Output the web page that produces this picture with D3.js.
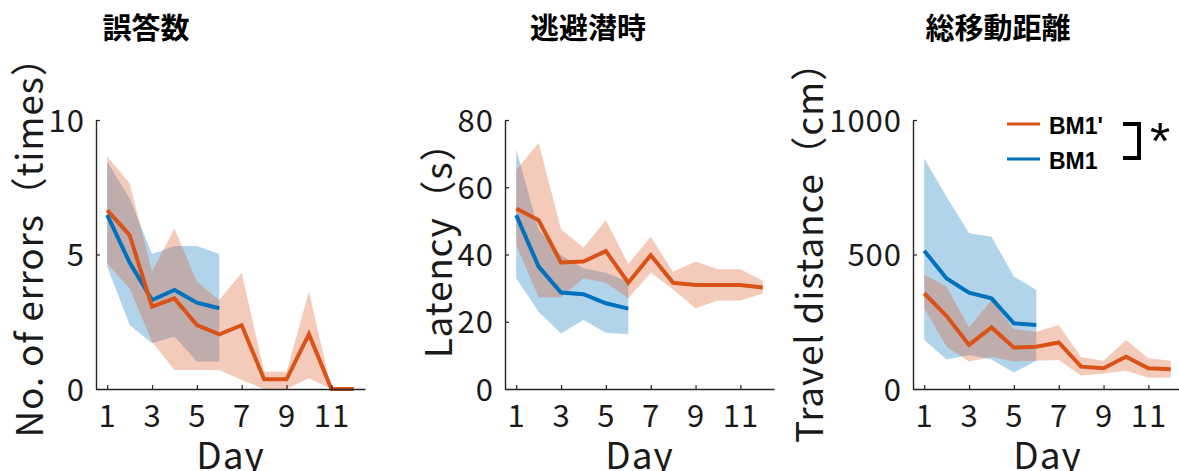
<!DOCTYPE html>
<html>
<head>
<meta charset="utf-8">
<script src="https://cdn.jsdelivr.net/npm/d3@7"></script>
<style>
  body { margin: 0; background: #fff; }
  svg { display: block; }
</style>
</head>
<body>
<svg id="chart" width="1179" height="471"></svg>
<script>
// ─── DATA ───
const DAYS_ALL = [1, 2, 3, 4, 5, 6, 7, 8, 9, 10, 11, 12];
const DAYS_BM1 = [1, 2, 3, 4, 5, 6];
const X_TICKS = [1, 3, 5, 7, 9, 11];

// 誤答数 (errors)
const errPrimeMean = [6.65, 5.72, 3.06, 3.37, 2.38, 2.03, 2.37, 0.36, 0.36, 2.04, 0, 0];
const errPrimeLo   = [4.67, 3.74, 1.76, 0.71, 0.71, 0.71, 0.33, 0, 0, 0.40, 0, 0];
const errPrimeHi   = [8.64, 7.65, 4.36, 5.97, 3.99, 3.31, 4.32, 0.64, 0.64, 3.62, 0, 0];
const errMean = [6.47, 4.70, 3.31, 3.68, 3.21, 3.00];
const errLo   = [4.55, 2.38, 1.70, 1.95, 1.02, 1.02];
const errHi   = [8.45, 7.09, 5.02, 5.32, 5.32, 5.02];
const errTicks = [0, 5, 10];

// 逃避潜時 (latency)
const latPrimeMean = [53.7, 50.2, 37.6, 37.9, 41.0, 31.6, 39.8, 31.6, 30.9, 30.9, 30.9, 30.2];
const latPrimeLo   = [42.8, 27.3, 27.3, 32.9, 31.6, 27.0, 34.6, 29.6, 24.0, 26.3, 26.3, 28.4];
const latPrimeHi   = [65.1, 73.2, 47.5, 42.1, 50.2, 37.2, 45.3, 34.9, 37.9, 35.6, 35.6, 32.2];
const latMean = [51.7, 36.4, 28.7, 28.2, 25.5, 23.9];
const latLo   = [32.9, 23.0, 16.5, 20.5, 16.7, 16.3];
const latHi   = [71.3, 47.3, 39.8, 35.9, 34.6, 31.9];
const latTicks = [0, 20, 40, 60, 80];

// 総移動距離 (travel distance)
const distPrimeMean = [356, 271, 164, 229, 154, 157, 173, 83, 77, 120, 77, 73];
const distPrimeLo   = [300, 157, 102, 120, 102, 105, 108, 50, 58, 68, 42, 43];
const distPrimeHi   = [426, 380, 229, 331, 222, 213, 238, 118, 105, 182, 114, 105];
const distMean = [514, 411, 358, 337, 244, 238];
const distLo   = [182, 110, 126, 110, 61, 105];
const distHi   = [857, 715, 579, 566, 418, 368];
const distTicks = [0, 500, 1000];

const GROUPS = ["BM1'", 'BM1'];

// ─── STYLE ───
const COLORS = { prime: '#D95319', base: '#0072BD' };
const AXIS_COLOR = '#262626';
const FONT = '"Noto Sans CJK JP", "Noto Sans", sans-serif';

const PLOT_TOP = 120, PLOT_BOTTOM = 389, PLOT_W = 269;

const panels = [
  { left: 96,  title: '誤答数', titleX: 146, label: 'No. of errors（times）', labelX: 43, labelY: 238,
    max: 10, ticks: errTicks,
    prime: { mean: errPrimeMean, lo: errPrimeLo, hi: errPrimeHi },
    base:  { mean: errMean, lo: errLo, hi: errHi } },
  { left: 505, title: '逃避潜時', titleX: 588, label: 'Latency（s）', labelX: 452, labelY: 241,
    max: 80, ticks: latTicks,
    prime: { mean: latPrimeMean, lo: latPrimeLo, hi: latPrimeHi },
    base:  { mean: latMean, lo: latLo, hi: latHi } },
  { left: 913, title: '総移動距離', titleX: 998, label: 'Travel distance（cm）', labelX: 823, labelY: 243,
    max: 1000, ticks: distTicks,
    prime: { mean: distPrimeMean, lo: distPrimeLo, hi: distPrimeHi },
    base:  { mean: distMean, lo: distLo, hi: distHi } }
];

const svg = d3.select('#chart');

const drawPanel = (p) => {
  const x = d3.scaleLinear().domain([0.5, 12.5]).range([p.left, p.left + PLOT_W]);
  const y = d3.scaleLinear().domain([0, p.max]).range([PLOT_BOTTOM, PLOT_TOP]);
  const g = svg.append('g');

  // title
  g.append('text')
    .attr('x', p.titleX).attr('y', 39)
    .attr('text-anchor', 'middle')
    .attr('font-family', FONT).attr('font-weight', 'bold').attr('font-size', 29)
    .attr('fill', '#000')
    .text(p.title);

  // bands + lines
  const area = d3.area().x(d => x(d.day)).y0(d => y(d.lo)).y1(d => y(d.hi));
  const line = d3.line().x(d => x(d.day)).y(d => y(d.v));
  const series = [
    { key: 'base',  days: DAYS_BM1 },
    { key: 'prime', days: DAYS_ALL }
  ];
  series.forEach(s => {
    const d = p[s.key];
    const pts = s.days.map((day, i) => ({ day, lo: d.lo[i], hi: d.hi[i] }));
    g.append('path').attr('d', area(pts))
      .attr('fill', COLORS[s.key]).attr('fill-opacity', 0.3);
  });
  series.forEach(s => {
    const d = p[s.key];
    const pts = s.days.map((day, i) => ({ day, v: d.mean[i] }));
    g.append('path').attr('d', line(pts))
      .attr('fill', 'none').attr('stroke', COLORS[s.key])
      .attr('stroke-width', 4).attr('stroke-linejoin', 'miter');
  });

  // axes (MATLAB style: inward ticks, no box)
  const xAxis = g.append('g').attr('transform', `translate(0,${PLOT_BOTTOM})`)
    .call(d3.axisBottom(x).tickValues(X_TICKS).tickSizeInner(-4).tickSizeOuter(0).tickPadding(0));
  const yAxis = g.append('g').attr('transform', `translate(${p.left},0)`)
    .call(d3.axisLeft(y).tickValues(p.ticks).tickFormat(d3.format('d'))
      .tickSizeInner(-4).tickSizeOuter(0).tickPadding(0));

  [xAxis, yAxis].forEach(a => {
    a.select('.domain').attr('stroke', AXIS_COLOR).attr('stroke-width', 1.4);
    a.selectAll('.tick line').attr('stroke', AXIS_COLOR).attr('stroke-width', 1.2);
    a.selectAll('.tick text')
      .attr('font-family', FONT).attr('font-size', 31).attr('fill', '#1a1a1a')
      .attr('letter-spacing', 1);
  });
  xAxis.selectAll('.tick text').attr('y', 38).attr('dy', 0);
  yAxis.selectAll('.tick text').attr('x', -11).attr('dy', '0.36em');

  // axis labels
  g.append('text')
    .attr('x', p.left + PLOT_W / 2).attr('y', 469)
    .attr('text-anchor', 'middle')
    .attr('font-family', FONT).attr('font-size', 37).attr('fill', '#1a1a1a')
    .attr('letter-spacing', 1)
    .text('Day');
  g.append('text')
    .attr('transform', `translate(${p.labelX},${p.labelY}) rotate(-90)`)
    .attr('text-anchor', 'middle')
    .attr('font-family', FONT).attr('font-size', 37).attr('fill', '#1a1a1a')
    .attr('letter-spacing', 0.8)
    .text(p.label);
};

panels.forEach(drawPanel);

// ─── LEGEND (third panel) ───
const legend = svg.append('g');
const legendRows = [
  { name: GROUPS[0], color: COLORS.prime, y: 124 },
  { name: GROUPS[1], color: COLORS.base,  y: 159 }
];
legendRows.forEach(r => {
  legend.append('line')
    .attr('x1', 1007).attr('x2', 1040).attr('y1', r.y).attr('y2', r.y)
    .attr('stroke', r.color).attr('stroke-width', 3);
  legend.append('text')
    .attr('x', 1049).attr('y', r.y + 10)
    .attr('font-family', '"Liberation Sans", Arial, sans-serif')
    .attr('font-weight', 'bold').attr('font-size', 23).attr('fill', '#000')
    .text(r.name);
});
// significance bracket
legend.append('path')
  .attr('d', 'M1123,124 H1139 V158 H1123')
  .attr('fill', 'none').attr('stroke', '#000').attr('stroke-width', 4);
legend.append('text')
  .attr('x', 1160).attr('y', 159)
  .attr('text-anchor', 'middle')
  .attr('font-family', '"Liberation Sans", Arial, sans-serif')
  .attr('font-size', 52).attr('fill', '#000')
  .text('*');
</script>
</body>
</html>
